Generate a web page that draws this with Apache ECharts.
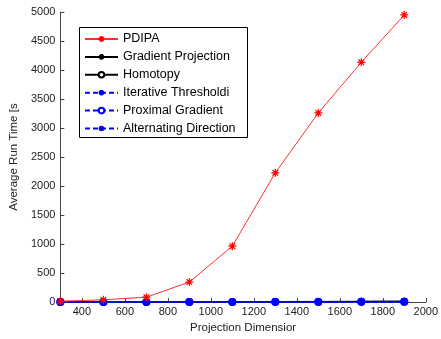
<!DOCTYPE html>
<html><head><meta charset="utf-8">
<script src="https://cdn.jsdelivr.net/npm/echarts@6/dist/echarts.min.js"></script>
<style>html,body{margin:0;padding:0;background:#fff}#c{width:441px;height:339px}</style>
</head><body><div id="c"></div>
<script>
var dims = [300, 500, 700, 900, 1100, 1300, 1500, 1700, 1900];
var pdipa = [15, 40, 85, 345, 964, 2228, 3260, 4133, 4949];
var gradProj = [2, 3, 4, 6, 8, 10, 12, 14, 16];
var homotopy = [1, 2, 3, 4, 6, 7, 9, 11, 13];
var iterThresh = [1, 1, 2, 3, 4, 5, 6, 7, 8];
var proxGrad = [1, 1, 2, 2, 3, 4, 5, 6, 7];
var altDir = [1, 1, 1, 2, 2, 3, 3, 4, 4];
var xLabels = [400, 600, 800, 1000, 1200, 1400, 1600, 1800, 2000];
var names = ['PDIPA', 'Gradient Projection', 'Homotopy', 'Iterative Thresholding', 'Proximal Gradient', 'Alternating Direction'];

function pts(arr) { return dims.map(function (d, i) { return [d, arr[i]]; }); }
var star = 'path://M0,-5L0,5M-5,0L5,0M-3.5,-3.5L3.5,3.5M-3.5,3.5L3.5,-3.5';
var font = 'Liberation Sans, Arial, sans-serif';

var chart = echarts.init(document.getElementById('c'));
chart.setOption({
  animation: false,
  backgroundColor: '#fff',
  grid: { left: 55, right: 12, top: 12, bottom: 33 },
  graphic: [{ type: 'rect', shape: { x: 79.5, y: 27.5, width: 168, height: 110 }, style: { fill: '#fff', stroke: '#000', lineWidth: 1 }, z: 90 }],
  legend: {
    orient: 'vertical', left: 80, top: 32.5, z: 100,
    itemWidth: 33, itemHeight: 7, itemGap: 4.9, padding: [0, 0, 0, 4],
    textStyle: { fontFamily: font, fontSize: 12.5, color: '#000', width: 114, overflow: 'truncate', ellipsis: '' },
    data: names
  },
  xAxis: {
    type: 'value', min: 300, max: 2000,
    name: 'Projection Dimensior', nameLocation: 'middle', nameGap: 18,
    nameTextStyle: { fontFamily: font, fontSize: 11.5, color: '#222' },
    axisLine: { onZero: false, lineStyle: { color: '#444' } },
    axisTick: { inside: true, length: 4, customValues: xLabels, lineStyle: { color: '#444' } },
    axisLabel: { customValues: xLabels, fontFamily: font, fontSize: 11, color: '#222', margin: 4, formatter: function (v) { return String(v); } },
    splitLine: { show: false }
  },
  yAxis: {
    type: 'value', min: 0, max: 5000, interval: 500,
    name: 'Average Run Time [s', nameLocation: 'middle', nameGap: 36,
    nameTextStyle: { fontFamily: font, fontSize: 11.5, color: '#222' },
    axisLine: { show: true, lineStyle: { color: '#444' } },
    axisTick: { inside: true, length: 4, lineStyle: { color: '#444' } },
    axisLabel: { fontFamily: font, fontSize: 11, color: '#222', margin: 5, formatter: function (v) { return String(v); } },
    splitLine: { show: false }
  },
  series: [
    { name: names[0], type: 'line', data: pts(pdipa), symbol: star, symbolSize: 8, showAllSymbol: true,
      lineStyle: { color: '#ff3030', width: 1 }, itemStyle: { color: '#ff0000', borderColor: '#ff0000', borderWidth: 1.2 }, z: 5 },
    { name: names[1], type: 'line', data: pts(gradProj), symbol: star, symbolSize: 7,
      lineStyle: { color: '#000', width: 1 }, itemStyle: { color: '#000', borderColor: '#000', borderWidth: 1 }, z: 2 },
    { name: names[2], type: 'line', data: pts(homotopy), symbol: 'emptyCircle', symbolSize: 5,
      lineStyle: { color: '#000', width: 1 }, itemStyle: { color: '#000', borderColor: '#000', borderWidth: 1 }, z: 2 },
    { name: names[3], type: 'line', data: pts(iterThresh), symbol: star, symbolSize: 7,
      lineStyle: { color: '#0000ff', width: 1.5, type: [5, 3] }, itemStyle: { color: '#0000ff', borderColor: '#0000ff', borderWidth: 1 }, z: 3 },
    { name: names[4], type: 'line', data: pts(proxGrad), symbol: 'emptyCircle', symbolSize: 6,
      lineStyle: { color: '#0000ff', width: 1.5, type: [5, 3] }, itemStyle: { color: '#0000ff', borderColor: '#0000ff', borderWidth: 1 }, z: 3 },
    { name: names[5], type: 'line', data: pts(altDir), symbol: 'circle', symbolSize: 8,
      lineStyle: { color: '#0000ff', width: 2, type: [5, 3] }, itemStyle: { color: '#0000ff' }, z: 4 }
  ]
});
</script>
</body></html>
